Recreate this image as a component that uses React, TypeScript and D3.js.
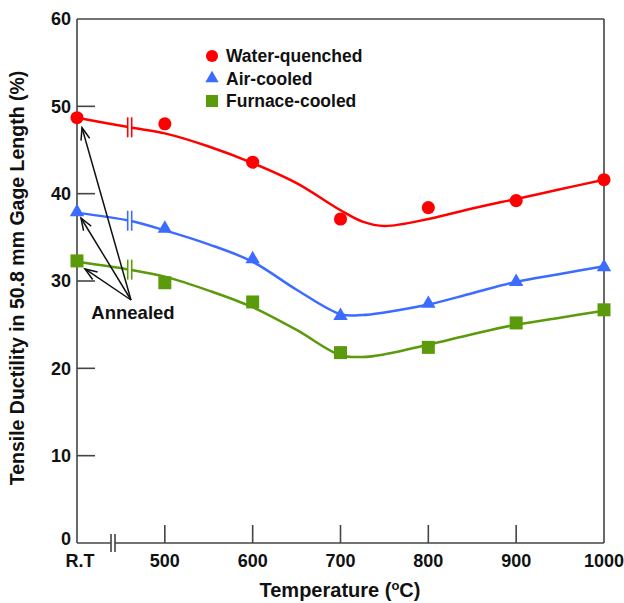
import { scaleLinear, line, curveCatmullRom, symbol, symbolCircle, symbolTriangle, symbolSquare } from 'd3';

// x categories (R.T sits at the left axis)
const tempLabels = ['R.T', '500', '600', '700', '800', '900', '1000'];
const tempValues = [400, 500, 600, 700, 800, 900, 1000];

// measured points
const waterQuenched = [48.7, 48.0, 43.6, 37.1, 38.4, 39.2, 41.6];
const airCooled = [37.9, 36.0, 32.5, 26.0, 27.4, 29.9, 31.6];
const furnaceCooled = [32.3, 29.8, 27.6, 21.8, 22.4, 25.2, 26.7];

// fitted curves
const fitTemps = [400, 460, 500, 550, 600, 650, 700, 725, 750, 800, 850, 900, 950, 1000];
const waterFit = [48.7, 47.6, 46.9, 45.4, 43.5, 41.2, 38.1, 36.8, 36.3, 37.1, 38.3, 39.4, 40.5, 41.6];
const airFit = [37.8, 36.9, 35.8, 34.2, 32.2, 29.0, 26.2, 26.1, 26.4, 27.3, 28.6, 29.9, 30.8, 31.7];
const furnaceFit = [32.2, 31.3, 30.5, 28.9, 27.0, 24.4, 21.5, 21.3, 21.6, 22.7, 23.9, 25.0, 25.8, 26.6];

const yTicks = [0, 10, 20, 30, 40, 50, 60];
const curveBreakTemp = 460;
const axisBreakTemp = 441;

const FONT = 'Liberation Sans, Arial, sans-serif';
const AXIS_COLOR = '#444';

const series = [
  { name: 'Water-quenched', color: '#ff0000', shape: symbolCircle, size: 135, points: waterQuenched, fit: waterFit },
  { name: 'Air-cooled', color: '#3b6cff', shape: symbolTriangle, size: 90, points: airCooled, fit: airFit },
  { name: 'Furnace-cooled', color: '#5b9a0b', shape: symbolSquare, size: 169, points: furnaceCooled, fit: furnaceFit },
];

const App = () => {
  const x = scaleLinear().domain([400, 1000]).range([77, 604]);
  const y = scaleLinear().domain([0, 60]).range([543, 19]);

  const fitLine = line<number>()
    .x((d, i) => x(fitTemps[i]))
    .y(d => y(d))
    .curve(curveCatmullRom.alpha(0.5));

  // arrows from the "Annealed" label to the R.T points
  const apex = { x: 131, y: 300 };
  const arrowTips = [
    { x: x(tempValues[0]) + 5, y: y(waterQuenched[0]) + 10 },
    { x: x(tempValues[0]) + 4, y: y(airCooled[0]) + 6 },
    { x: x(tempValues[0]) + 8, y: y(furnaceCooled[0]) + 8 },
  ];
  const arrowHead = (tip: { x: number; y: number }) => {
    const ang = Math.atan2(apex.y - tip.y, apex.x - tip.x);
    const len = 13, spread = 0.35;
    const p1 = [tip.x + len * Math.cos(ang - spread), tip.y + len * Math.sin(ang - spread)];
    const p2 = [tip.x + len * Math.cos(ang + spread), tip.y + len * Math.sin(ang + spread)];
    return `M${p1[0]},${p1[1]}L${tip.x},${tip.y}L${p2[0]},${p2[1]}`;
  };

  return (
    <div style={{ position: 'absolute', left: 0, top: 0 }}>
      <svg width={624} height={603} style={{ display: 'block', background: '#fff' }}>
        {/* frame */}
        <g stroke={AXIS_COLOR} strokeWidth={1.6} fill="none">
          <line x1={x(400)} x2={x(1000)} y1={y(60)} y2={y(60)} />
          <line x1={x(1000)} x2={x(1000)} y1={y(60)} y2={y(0)} />
          <line x1={x(400)} x2={x(400)} y1={y(60)} y2={y(0)} />
          <line x1={x(400)} x2={x(1000)} y1={y(0)} y2={y(0)} />
          {yTicks.slice(1, -1).map(t => (
            <line key={t} x1={x(400)} x2={x(400) + 18} y1={y(t)} y2={y(t)} />
          ))}
          {tempValues.slice(1, -1).map(t => (
            <line key={t} x1={x(t)} x2={x(t)} y1={y(0)} y2={y(0) - 18} />
          ))}
        </g>
        {/* axis break */}
        <rect x={x(axisBreakTemp) - 2} y={y(0) - 9} width={4} height={18} fill="#fff" />
        <line x1={x(axisBreakTemp) - 2} x2={x(axisBreakTemp) - 2} y1={y(0) - 9} y2={y(0) + 9} stroke={AXIS_COLOR} strokeWidth={1.6} />
        <line x1={x(axisBreakTemp) + 2} x2={x(axisBreakTemp) + 2} y1={y(0) - 9} y2={y(0) + 9} stroke={AXIS_COLOR} strokeWidth={1.6} />

        {/* tick labels */}
        <g fontFamily={FONT} fontWeight="bold" fontSize={18} fill="#111">
          {yTicks.map(t => (
            <text key={t} x={71} y={y(t) - (t === 0 ? 4 : 0)} dy="0.35em" textAnchor="end">{t}</text>
          ))}
          {tempLabels.map((l, i) => (
            <text key={l} x={x(tempValues[i]) + (i === 0 ? 3 : 0)} y={567} textAnchor="middle">{l}</text>
          ))}
        </g>

        {/* axis titles */}
        <text x={340} y={597} textAnchor="middle" fontFamily={FONT} fontWeight="bold" fontSize={20} fill="#111">
          Temperature (<tspan fontSize={13} dy={-7}>o</tspan><tspan dy={7}>C)</tspan>
        </text>
        <text transform="translate(24,278) rotate(-90)" textAnchor="middle" fontFamily={FONT} fontWeight="bold" fontSize={19.5} fill="#111">
          Tensile Ductility in 50.8 mm Gage Length (%)
        </text>

        {/* fitted curves, breaks and points */}
        {series.map(s => (
          <g key={s.name}>
            <path d={fitLine(s.fit) || ''} fill="none" stroke={s.color} strokeWidth={2.5} />
            {(() => {
              const i = fitTemps.indexOf(curveBreakTemp);
              const bx = x(curveBreakTemp), by = y(s.fit[i]);
              return (
                <g stroke={s.color} strokeWidth={1.6}>
                  <rect x={bx - 2} y={by - 10} width={4} height={20} fill="#fff" stroke="none" />
                  <line x1={bx - 2} x2={bx - 2} y1={by - 10} y2={by + 10} />
                  <line x1={bx + 2} x2={bx + 2} y1={by - 10} y2={by + 10} />
                </g>
              );
            })()}
            {s.points.map((v, i) => (
              <path key={i} transform={`translate(${x(tempValues[i])},${y(v)})`}
                d={symbol(s.shape, s.size)() || ''} fill={s.color} />
            ))}
          </g>
        ))}

        {/* annealed annotation */}
        <g stroke="#111" strokeWidth={1.5} fill="none">
          {arrowTips.map((tip, i) => (
            <g key={i}>
              <line x1={apex.x} y1={apex.y} x2={tip.x} y2={tip.y} />
              <path d={arrowHead(tip)} />
            </g>
          ))}
        </g>
        <text x={133} y={319} textAnchor="middle" fontFamily={FONT} fontWeight="bold" fontSize={18.5} fill="#111">Annealed</text>

        {/* legend */}
        {series.map((s, i) => (
          <g key={s.name} transform={`translate(212,${56 + i * 22.5})`}>
            <path d={symbol(s.shape, s.size * 0.85)() || ''} fill={s.color} />
            <text x={14} y={0} dy="0.35em" fontFamily={FONT} fontWeight="bold" fontSize={17.5} fill="#111">{s.name}</text>
          </g>
        ))}
      </svg>
    </div>
  );
};

export default App;
